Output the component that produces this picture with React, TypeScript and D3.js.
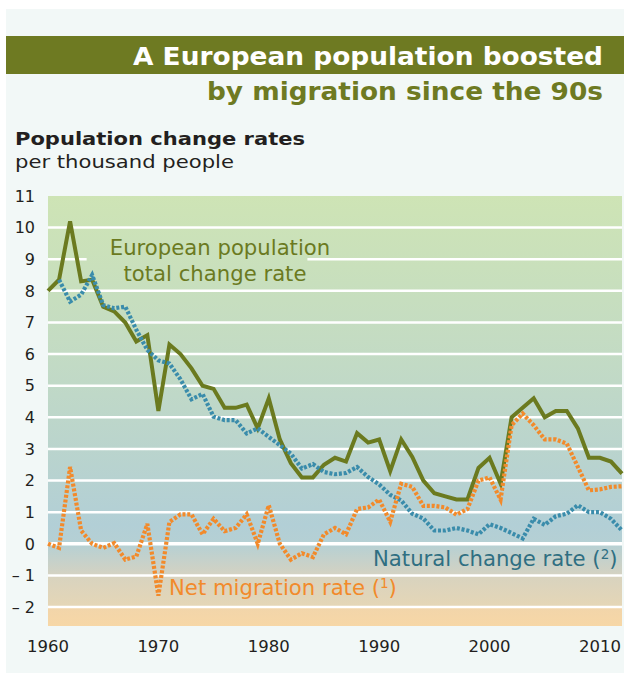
import React from "react";
import * as d3 from "d3";

const years: number[] = d3.range(1960, 2013);

const totalChange: number[] = [
  8.0, 8.35, 10.2, 8.3, 8.35, 7.5, 7.35, 7.0, 6.4, 6.6,
  4.2, 6.3, 6.0, 5.55, 5.0, 4.9, 4.3, 4.3, 4.4, 3.65,
  4.6, 3.3, 2.55, 2.1, 2.1, 2.5, 2.72, 2.6, 3.5, 3.2,
  3.3, 2.3, 3.3, 2.75, 2.0, 1.6, 1.5, 1.4, 1.4, 2.4,
  2.72, 1.9, 4.0, 4.3, 4.6, 4.0, 4.2, 4.2, 3.65, 2.72,
  2.72, 2.6, 2.22,
];

const naturalChange: (number | null)[] = [
  null, 8.35, 7.66, 7.88, 8.5, 7.55, 7.45, 7.5, 6.77, 6.13,
  5.8, 5.7, 5.2, 4.57, 4.74, 4.02, 3.91, 3.91, 3.49, 3.65,
  3.38, 3.12, 2.85, 2.38, 2.52, 2.27, 2.2, 2.24, 2.43, 2.11,
  1.88, 1.55, 1.37, 0.95, 0.8, 0.42, 0.42, 0.5, 0.42, 0.3,
  0.62, 0.5, 0.34, 0.17, 0.79, 0.6, 0.87, 0.95, 1.22, 1.0,
  1.0, 0.79, 0.42,
];

const netMigration: number[] = [
  0.0, -0.13, 2.43, 0.42, 0.0, -0.13, 0.02, -0.5, -0.4, 0.63,
  -1.64, 0.69, 0.93, 0.93, 0.3, 0.79, 0.4, 0.5, 0.93, 0.0,
  1.22, 0.0, -0.5, -0.3, -0.42, 0.3, 0.5, 0.3, 1.1, 1.15,
  1.4, 0.7, 1.9, 1.8, 1.2, 1.2, 1.15, 0.92, 1.1, 2.0,
  2.1, 1.4, 3.75, 4.12, 3.75, 3.3, 3.3, 3.17, 2.43, 1.69,
  1.72, 1.8, 1.82,
];

const yTicks: number[] = [-2, -1, 0, 1, 2, 3, 4, 5, 6, 7, 8, 9, 10, 11];
const xTicks: number[] = [1960, 1970, 1980, 1990, 2000, 2010];

const titleLine1 = "A European population boosted";
const titleLine2 = "by migration since the 90s";
const subtitle = "Population change rates";
const unitLabel = "per thousand people";

const OLIVE = "#6b7a1f";
const BLUE = "#3a8cab";
const ORANGE = "#f28a2b";
const TEAL_TEXT = "#2f6f82";

const fontMain = "'DejaVu Sans', Verdana, sans-serif";
const fontTitle = "'DejaVu Sans Condensed', 'DejaVu Sans', sans-serif";

export default function App() {
  const W = 624;
  const H = 674;
  const plotLeft = 48;
  const plotRight = 622;
  const plotTop = 196;
  const plotBottom = 626;

  const x = d3.scaleLinear().domain([1960, 2012]).range([plotLeft, plotRight]);
  const y = d3.scaleLinear().domain([-2.6, 11]).range([plotBottom, plotTop]);

  const lineGen = d3
    .line<[number, number | null]>()
    .defined((d) => d[1] !== null && d[1] !== undefined)
    .x((d) => x(d[0]))
    .y((d) => y(d[1] as number));

  const totalPath = lineGen(years.map((yr, i) => [yr, totalChange[i]]))!;
  const naturalPath = lineGen(years.map((yr, i) => [yr, naturalChange[i]]))!;
  const migrationPath = lineGen(years.map((yr, i) => [yr, netMigration[i]]))!;

  const frac = (v: number) => (y(v) - plotTop) / (plotBottom - plotTop);

  const stops: [number, string][] = [
    [frac(11), "#cee4b5"],
    [frac(6), "#c3dbc4"],
    [frac(3), "#bad4cd"],
    [frac(0.6), "#b2cfd6"],
    [frac(0), "#b5d0d4"],
    [frac(-0.98), "#d4d2c2"],
    [frac(-1.02), "#d8d3bf"],
    [frac(-1.98), "#e5d6b6"],
    [frac(-2.02), "#f2d5aa"],
    [frac(-2.6), "#f7d7a6"],
  ];

  const gapStart = x(1963.5) - plotLeft;
  const gapLen = x(1983.5) - x(1963.5);

  return (
    <svg width={W} height={H} style={{ display: "block", position: "absolute", left: 0, top: 0 }}>
      <defs>
        <linearGradient id="bg" x1="0" y1="0" x2="0" y2="1">
          {stops.map(([o, c], i) => (
            <stop key={i} offset={o} stopColor={c} />
          ))}
        </linearGradient>
      </defs>
      <rect x={0} y={0} width={W} height={H} fill="#ffffff" />
      <rect x={6} y={9} width={W - 6} height={664} fill="#f2f8f7" />
      <rect x={6} y={36} width={W - 6} height={38} fill="#6e7a22" />
      <text
        x={603}
        y={65}
        textAnchor="end"
        fill="#ffffff"
        fontFamily={fontTitle}
        fontWeight="bold"
        fontSize={25}
        textLength={470}
        lengthAdjust="spacingAndGlyphs"
      >
        {titleLine1}
      </text>
      <text
        x={603}
        y={100}
        textAnchor="end"
        fill="#6e7a22"
        fontFamily={fontTitle}
        fontWeight="bold"
        fontSize={25}
        textLength={396}
        lengthAdjust="spacingAndGlyphs"
      >
        {titleLine2}
      </text>
      <text x={15} y={145} fill="#231f20" fontFamily={fontMain} fontWeight="bold" fontSize={17} textLength={290} lengthAdjust="spacingAndGlyphs">
        {subtitle}
      </text>
      <text x={15} y={168} fill="#231f20" fontFamily={fontMain} fontSize={17} textLength={219} lengthAdjust="spacingAndGlyphs">
        {unitLabel}
      </text>

      <rect x={plotLeft} y={plotTop} width={plotRight - plotLeft} height={plotBottom - plotTop} fill="url(#bg)" />

      {yTicks
        .filter((t) => t < 11)
        .map((t) => (
          <line
            key={t}
            x1={plotLeft}
            x2={plotRight}
            y1={y(t)}
            y2={y(t)}
            stroke="#ffffff"
            strokeWidth={t === 0 ? 3.5 : 2.5}
            strokeDasharray={t === 9 ? `${gapStart} ${gapLen} 1000` : undefined}
          />
        ))}

      {yTicks.map((t) => (
        <text
          key={t}
          x={35}
          y={y(t)}
          dy="0.36em"
          textAnchor="end"
          fill="#231f20"
          fontFamily={fontMain}
          fontSize={16}
        >
          {t < 0 ? `– ${Math.abs(t)}` : `${t}`}
        </text>
      ))}

      {xTicks.map((t) => (
        <text
          key={t}
          x={x(t)}
          y={652}
          textAnchor="middle"
          fill="#231f20"
          fontFamily={fontMain}
          fontSize={16.5}
        >
          {t}
        </text>
      ))}

      <path d={totalPath} fill="none" stroke={OLIVE} strokeWidth={4} strokeLinejoin="miter" />
      <path d={naturalPath} fill="none" stroke={BLUE} strokeWidth={4.2} strokeDasharray="3 1.8" />
      <path d={migrationPath} fill="none" stroke={ORANGE} strokeWidth={4.2} strokeDasharray="3 1.8" />

      <text x={220} y={255} textAnchor="middle" fill={OLIVE} fontFamily={fontMain} fontSize={21.2}>
        European population
      </text>
      <text x={215} y={281} textAnchor="middle" fill={OLIVE} fontFamily={fontMain} fontSize={21.2}>
        total change rate
      </text>
      <text x={373} y={566} fill={TEAL_TEXT} fontFamily={fontMain} fontSize={21.2}>
        Natural change rate (<tspan fontSize={13.5} dy={-7}>2</tspan>
        <tspan dy={7}>)</tspan>
      </text>
      <text x={169} y={595} fill={ORANGE} fontFamily={fontMain} fontSize={21.2}>
        Net migration rate (<tspan fontSize={13.5} dy={-7}>1</tspan>
        <tspan dy={7}>)</tspan>
      </text>
    </svg>
  );
}
